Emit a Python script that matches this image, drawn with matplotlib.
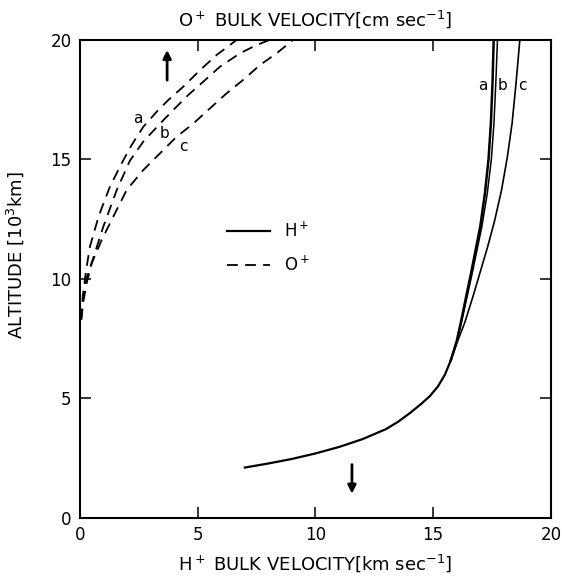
import numpy as np
from matplotlib import pyplot as plt

# H+ bulk velocity (km/sec) vs altitude (10^3 km): common lower branch
h_low_x = [7.0, 8.0, 9.0, 10.0, 11.0, 12.0, 13.0, 13.5, 14.0, 14.5, 14.86, 15.2, 15.5, 15.75]
h_low_y = [2.11, 2.28, 2.47, 2.7, 2.97, 3.3, 3.72, 4.02, 4.38, 4.78, 5.1, 5.5, 6.0, 6.6]
# upper branches a, b, c
h_a_x = [15.75, 16.0, 16.2, 16.4, 16.6, 16.8, 17.0, 17.2, 17.35, 17.45, 17.52, 17.57]
h_a_y = [6.6, 7.4, 8.3, 9.26, 10.2, 11.2, 12.2, 13.6, 15.0, 16.5, 18.2, 20.0]
h_b_x = [15.75, 16.02, 16.23, 16.44, 16.65, 16.86, 17.07, 17.3, 17.47, 17.58, 17.66, 17.73]
h_b_y = [6.6, 7.4, 8.3, 9.26, 10.2, 11.2, 12.2, 13.6, 15.0, 16.5, 18.2, 20.0]
h_c_x = [15.75, 16.0, 16.35, 16.7, 17.0, 17.3, 17.6, 17.9, 18.15, 18.35, 18.52, 18.68]
h_c_y = [6.6, 7.3, 8.2, 9.3, 10.3, 11.3, 12.4, 13.7, 15.1, 16.5, 18.2, 20.0]

# O+ bulk velocity (plotted on the same scale) vs altitude
o_a_x = [0.05, 0.12, 0.25, 0.42, 0.8, 1.27, 1.77, 2.19, 2.69, 3.26, 3.75, 4.39, 5.1, 5.8, 6.65]
o_a_y = [8.3, 9.3, 10.3, 11.35, 12.65, 13.86, 14.84, 15.6, 16.37, 17.0, 17.49, 18.05, 18.74, 19.37, 20.0]
o_b_x = [0.05, 0.15, 0.3, 0.57, 0.99, 1.56, 2.12, 2.69, 3.4, 3.96, 4.6, 5.24, 5.94, 6.79, 7.5, 8.05]
o_b_y = [8.3, 9.3, 10.1, 10.9, 12.19, 13.72, 14.95, 15.75, 16.5, 17.07, 17.7, 18.26, 18.88, 19.44, 19.79, 20.0]
o_c_x = [0.05, 0.15, 0.3, 0.5, 0.92, 1.41, 1.98, 2.69, 3.4, 4.1, 4.81, 5.52, 6.23, 6.93, 7.64, 8.36, 9.05]
o_c_y = [8.3, 9.1, 9.9, 10.66, 11.63, 12.6, 13.72, 14.56, 15.26, 15.95, 16.5, 17.14, 17.77, 18.33, 18.95, 19.45, 20.0]

curve_labels = ["a", "b", "c"]
o_label_pos = [(2.46, 16.7), (3.6, 16.07), (4.4, 15.56)]
h_label_pos = [(17.1, 18.1), (17.96, 18.1), (18.8, 18.1)]

fig = plt.figure(figsize=(5.61, 5.82), dpi=100)
ax = fig.add_axes([0.1426, 0.11, 0.8394, 0.8213])

lw = 1.3
ax.plot(h_low_x, h_low_y, color="black", lw=1.6, label="H$^+$")
ax.plot(h_a_x, h_a_y, color="black", lw=1.8)
ax.plot(h_b_x, h_b_y, color="black", lw=1.1)
ax.plot(h_c_x, h_c_y, color="black", lw=1.2)

dash = (6, 4)
ax.plot(o_a_x, o_a_y, color="black", lw=lw, dashes=dash, label="O$^+$")
ax.plot(o_b_x, o_b_y, color="black", lw=lw, dashes=dash)
ax.plot(o_c_x, o_c_y, color="black", lw=lw, dashes=dash)

for lab, (x, y) in zip(curve_labels, o_label_pos):
    ax.text(x, y, lab, fontsize=11, ha="center", va="center")
for lab, (x, y) in zip(curve_labels, h_label_pos):
    ax.text(x, y, lab, fontsize=11, ha="center", va="center")

# arrows indicating direction of flow
ax.annotate("", xy=(3.7, 19.7), xytext=(3.7, 18.2),
            arrowprops=dict(arrowstyle="-|>", color="black", lw=2.0, mutation_scale=12))
ax.annotate("", xy=(11.55, 0.9), xytext=(11.55, 2.35),
            arrowprops=dict(arrowstyle="-|>", color="black", lw=2.0, mutation_scale=12))

ax.set_xlim(0, 20)
ax.set_ylim(0, 20)
ax.set_xticks([0, 5, 10, 15, 20])
ax.set_yticks([0, 5, 10, 15, 20])
ax.tick_params(direction="in", top=True, right=True, length=8, width=1.1,
               labelsize=12, pad=6)
for s in ax.spines.values():
    s.set_linewidth(1.5)

ax.set_xlabel("H$^+$ BULK VELOCITY[km sec$^{-1}$]", fontsize=13, labelpad=6)
ax.set_ylabel("ALTITUDE [10$^3$km]", fontsize=13, labelpad=8)
ax.yaxis.set_label_coords(-0.115, 0.55)
ax.set_title("O$^+$ BULK VELOCITY[cm sec$^{-1}$]", fontsize=13, pad=10)

ax.legend(loc="center left", bbox_to_anchor=(0.28, 0.565), frameon=False,
          handlelength=2.6, fontsize=12, labelspacing=0.9, handletextpad=0.8)

fig.savefig("out.png", dpi=100)
